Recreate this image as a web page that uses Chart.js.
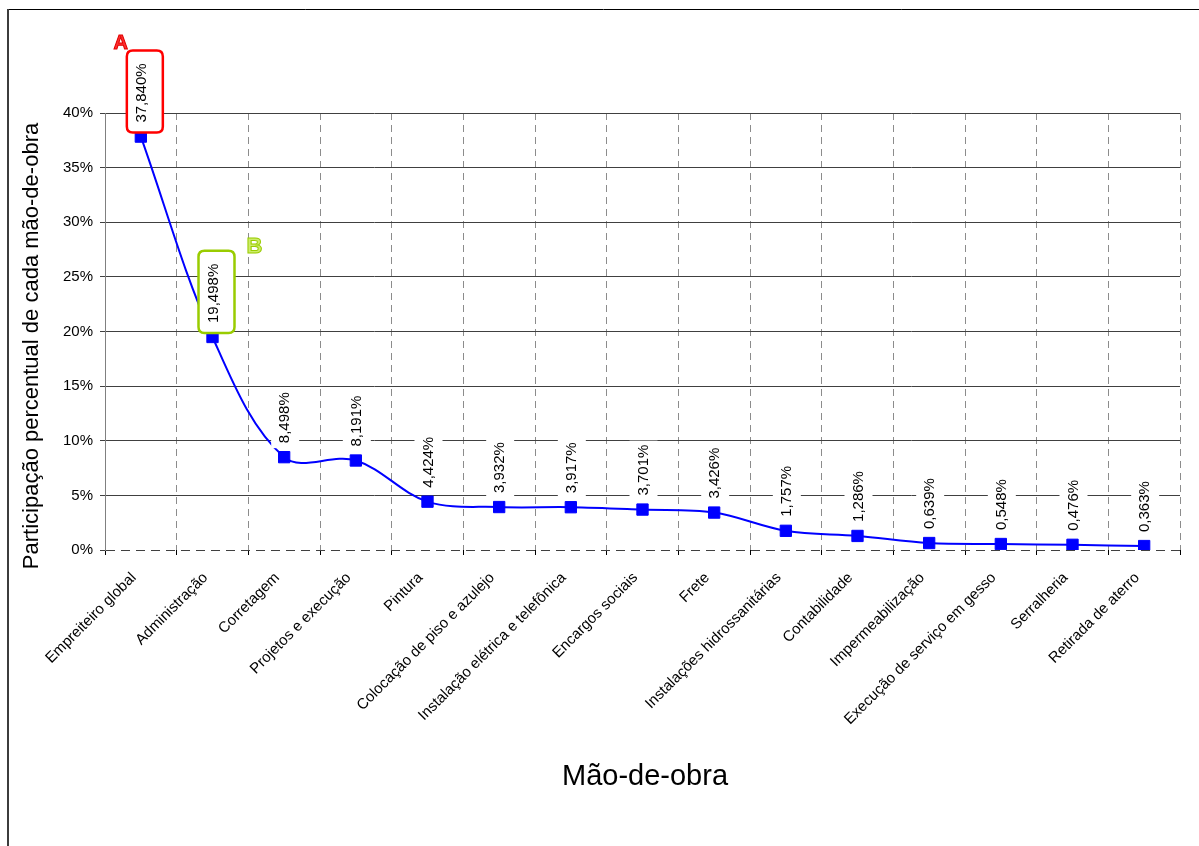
<!DOCTYPE html>
<html>
<head>
<meta charset="utf-8">
<script src="https://cdn.jsdelivr.net/npm/chart.js@4.4.1/dist/chart.umd.min.js"></script>
<style>
  html, body { margin: 0; padding: 0; background: #fff; }
  #wrap { width: 1199px; height: 846px; position: relative; }
</style>
</head>
<body>
<div id="wrap"><canvas id="chart" width="1199" height="846"></canvas></div>
<script>
// Participação percentual de cada mão-de-obra (em %)
const categories = [
  'Empreiteiro global', 'Administração', 'Corretagem', 'Projetos e execução',
  'Pintura', 'Colocação de piso e azulejo', 'Instalação elétrica e telefônica',
  'Encargos sociais', 'Frete', 'Instalações hidrossanitárias', 'Contabilidade',
  'Impermeabilização', 'Execução de serviço em gesso', 'Serralheria', 'Retirada de aterro'
];
const shares = [37.840, 19.498, 8.498, 8.191, 4.424, 3.932, 3.917, 3.701, 3.426,
                1.757, 1.286, 0.639, 0.548, 0.476, 0.363];
const yTicks = [0, 5, 10, 15, 20, 25, 30, 35, 40];

// Destaques: faixas A e B em torno dos dois maiores rótulos
const highlightIndex = [0, 1];
const highlightLetter = ['A', 'B'];
const highlightColor = ['#ff0000', '#99cc00'];

const FAMILY = '"Liberation Sans", Arial, Helvetica, sans-serif';
const fmt = v => v.toFixed(3).replace('.', ',') + '%';

function roundRectPath(ctx, x, y, w, h, r) {
  ctx.beginPath();
  ctx.moveTo(x + r, y);
  ctx.lineTo(x + w - r, y);
  ctx.quadraticCurveTo(x + w, y, x + w, y + r);
  ctx.lineTo(x + w, y + h - r);
  ctx.quadraticCurveTo(x + w, y + h, x + w - r, y + h);
  ctx.lineTo(x + r, y + h);
  ctx.quadraticCurveTo(x, y + h, x, y + h - r);
  ctx.lineTo(x, y + r);
  ctx.quadraticCurveTo(x, y, x + r, y);
  ctx.closePath();
}

// Moldura externa do gráfico
const framePlugin = {
  id: 'frame',
  beforeDraw(chart) {
    const c = chart.ctx;
    c.save();
    c.fillStyle = '#fff';
    c.fillRect(0, 0, chart.width, chart.height);
    c.strokeStyle = '#000';
    c.lineWidth = 1;
    c.beginPath();
    c.moveTo(8, 9.5);
    c.lineTo(chart.width, 9.5);
    c.stroke();
    c.strokeStyle = '#3c3c3c';
    c.lineWidth = 2;
    c.beginPath();
    c.moveTo(8, 9);
    c.lineTo(8, chart.height);
    c.stroke();
    c.restore();
  }
};

// Títulos dos eixos
const axisTitlePlugin = {
  id: 'axisTitles',
  afterDraw(chart) {
    const c = chart.ctx;
    c.save();
    c.fillStyle = '#000';
    c.textAlign = 'center';
    c.textBaseline = 'middle';
    c.font = '22px ' + FAMILY;
    c.translate(32, 346);
    c.rotate(-Math.PI / 2);
    c.fillText('Participação percentual de cada mão-de-obra', 0, 0);
    c.restore();

    c.save();
    c.fillStyle = '#000';
    c.textAlign = 'center';
    c.textBaseline = 'middle';
    c.font = '29px ' + FAMILY;
    c.fillText('Mão-de-obra', 645, 777);
    c.restore();
  }
};

// Rótulos de valor verticais, com fundo branco, acima de cada ponto
const valueLabelPlugin = {
  id: 'valueLabels',
  afterDatasetsDraw(chart) {
    const c = chart.ctx;
    const meta = chart.getDatasetMeta(0);
    meta.data.forEach((pt, i) => {
      const text = fmt(shares[i]);
      c.save();
      c.font = '15px ' + FAMILY;
      const w = c.measureText(text).width;
      const x = pt.x + 1;
      const y0 = pt.y - 14;
      const h = highlightIndex.indexOf(i);
      if (h >= 0) {
        const left = pt.x - 14, right = pt.x + 22;
        const top = y0 - w - 13, bottom = pt.y - 4;
        roundRectPath(c, left, top, right - left, bottom - top, 6);
        c.fillStyle = '#fff';
        c.fill();
        c.lineWidth = 2.5;
        c.strokeStyle = highlightColor[h];
        c.stroke();
        // letra de identificação
        c.lineWidth = 1;
        if (h === 0) {
          c.font = 'bold 20px ' + FAMILY;
          c.textAlign = 'right';
          c.textBaseline = 'bottom';
          c.fillStyle = '#ff3030';
          c.strokeStyle = '#e00000';
          c.fillText(highlightLetter[h], left + 1, top + 3);
          c.strokeText(highlightLetter[h], left + 1, top + 3);
        } else {
          c.font = 'bold 22px ' + FAMILY;
          c.textAlign = 'left';
          c.textBaseline = 'alphabetic';
          c.fillStyle = '#cdeb6a';
          c.strokeStyle = '#99cc00';
          c.fillText(highlightLetter[h], right + 12, top + 2);
          c.strokeText(highlightLetter[h], right + 12, top + 2);
        }
        c.font = '15px ' + FAMILY;
      }
      c.translate(x, y0);
      c.rotate(-Math.PI / 2);
      if (h < 0) {
        c.fillStyle = '#fff';
        c.fillRect(-5, -14, w + 9, 28);
      }
      c.fillStyle = '#000';
      c.textAlign = 'left';
      c.textBaseline = 'middle';
      c.fillText(text, 0, 0);
      c.restore();
    });
  }
};

new Chart(document.getElementById('chart'), {
  type: 'line',
  data: {
    labels: categories,
    datasets: [{
      data: shares,
      borderColor: '#0000ff',
      backgroundColor: '#0000ff',
      borderWidth: 2,
      tension: 0.35,
      fill: false,
      pointStyle: 'rect',
      pointRadius: 8,
      pointBorderWidth: 1,
      pointBorderColor: '#0000ff',
      pointBackgroundColor: '#0000ff'
    }]
  },
  options: {
    responsive: false,
    animation: false,
    devicePixelRatio: 1,
    layout: { padding: { left: 0, right: 19, top: 113, bottom: 0 } },
    plugins: { legend: { display: false }, tooltip: { enabled: false } },
    scales: {
      x: {
        type: 'category',
        offset: true,
        grid: { offset: true, color: '#8c8c8c', lineWidth: 1, tickLength: 5, tickColor: '#000' },
        border: { display: false, dash: [7, 5] },
        ticks: {
          autoSkip: false, maxRotation: 45, minRotation: 45, color: '#000',
          font: { family: FAMILY, size: 15 }, padding: 14, labelOffset: -7
        },
        afterFit(s) { s.height = 296; s.paddingLeft = 0; s.paddingRight = 0; }
      },
      y: {
        min: 0,
        max: 40,
        afterBuildTicks(s) { s.ticks = yTicks.map(v => ({ value: v })); },
        grid: { color: '#404040', lineWidth: 1, tickLength: 5, tickColor: '#404040' },
        border: {
          display: true, color: '#808080', width: 1,
          dash: ctx => (ctx.tick && ctx.tick.value === 0) ? [9, 6] : []
        },
        ticks: {
          color: '#000', font: { family: FAMILY, size: 15 }, padding: 7,
          callback: v => v + '%'
        },
        afterFit(s) { s.width = 105; }
      }
    }
  },
  plugins: [framePlugin, valueLabelPlugin, axisTitlePlugin]
});
</script>
</body>
</html>
